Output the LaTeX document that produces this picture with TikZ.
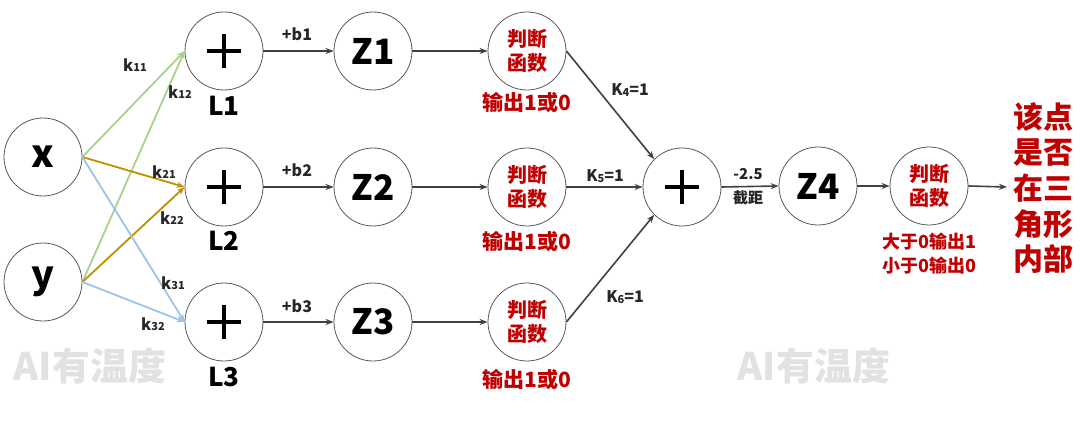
\documentclass[tikz,border=0pt]{standalone}
\usepackage{fontspec}
\setmainfont{Noto Sans CJK SC}
\usepackage{tikz}
\usetikzlibrary{arrows.meta}

\definecolor{kgreen}{HTML}{A9D18E}
\definecolor{kgold}{HTML}{BF9000}
\definecolor{kblue}{HTML}{9DC3E6}
\definecolor{outred}{HTML}{C00000}
\definecolor{linegray}{HTML}{404040}
\definecolor{wmgray}{HTML}{E2E2E2}

\newcommand{\fsz}[2]{\fontsize{#1}{#2}\selectfont}
\newcommand{\wsub}[2]{#1\raisebox{-0.3pt}{\fsz{5.5pt}{6pt}#2}}

\begin{document}
\begin{tikzpicture}[x=0.5pt, y=-0.5pt,
    circ/.style={circle, draw=black!65, line width=0.4pt, minimum size=39pt, inner sep=0pt},
    addnode/.style={circ, path picture={
        \draw[black, line width=1.6pt] ([xshift=-8.7pt]path picture bounding box.center) -- ([xshift=8.7pt]path picture bounding box.center);
        \draw[black, line width=1.6pt] ([yshift=-8.7pt]path picture bounding box.center) -- ([yshift=8.7pt]path picture bounding box.center);}},
    judge/.style={circ, text=outred, font=\bfseries\fsz{10pt}{12pt}, align=center},
    arr/.style={-{Stealth[length=4pt, width=3pt]}, line width=0.8pt, draw=linegray},
    warr/.style={-{Stealth[length=4pt, width=3pt]}, line width=0.9pt},
    lbl/.style={font=\bfseries\fsz{8pt}{9pt}, text=black!85},
    redlbl/.style={font=\bfseries\fsz{10.5pt}{12pt}, text=outred, align=center}]
    \useasboundingbox (0,0) rectangle (1080,422);
    % watermarks
    \node[text=wmgray, font=\bfseries\fsz{19pt}{22pt}] (wm1) at (90,366) {AI有温度};
    \node[text=wmgray, font=\bfseries\fsz{19pt}{22pt}] (wm2) at (814,366) {AI有温度};
    % inputs
    \node[circ, font=\bfseries\fsz{19pt}{20pt}] (x) at (43,157) {x};
    \node[circ, font=\bfseries\fsz{19pt}{20pt}] (y) at (43,282) {y};
    % first layer
    \node[addnode] (L1) at (224,51) {};
    \node[addnode] (L2) at (224,187) {};
    \node[addnode] (L3) at (224,322) {};
    \node[font=\bfseries\fsz{13pt}{14pt}] (L1t) at (224,106) {L1};
    \node[font=\bfseries\fsz{13pt}{14pt}] (L2t) at (224,241) {L2};
    \node[font=\bfseries\fsz{13pt}{14pt}] (L3t) at (224,377) {L3};
    \node[circ, font=\bfseries\fsz{17.5pt}{19pt}] (Z1) at (373,51) {Z1};
    \node[circ, font=\bfseries\fsz{17.5pt}{19pt}] (Z2) at (373,187) {Z2};
    \node[circ, font=\bfseries\fsz{17.5pt}{19pt}] (Z3) at (373,322) {Z3};
    \node[judge] (J1) at (527,51) {判断\\函数};
    \node[judge] (J2) at (527,187) {判断\\函数};
    \node[judge] (J3) at (527,322) {判断\\函数};
    \node[redlbl] (o1) at (527,103) {输出1或0};
    \node[redlbl] (o2) at (527,242) {输出1或0};
    \node[redlbl] (o3) at (527,380) {输出1或0};
    % second layer
    \node[addnode] (S) at (682,187) {};
    \node[circ, font=\bfseries\fsz{17.5pt}{19pt}] (Z4) at (818,186) {Z4};
    \node[judge] (J4) at (929,186) {判断\\函数};
    \node[font=\bfseries\fsz{9pt}{12pt}, text=outred, align=center] (o4) at (929,254) {大于0输出1\\小于0输出0};
    \coordinate (out) at (1007,187);
    \node[font=\bfseries\fsz{15pt}{17.8pt}, text=outred, align=center] (res) at (1043,188) {该点\\是否\\在三\\角形\\内部};
    % weights
    \draw[warr, kgreen] (x.east) -- (L1.west);
    \draw[warr, kgreen] (y.east) -- (L1.west);
    \draw[warr, kgold] (x.east) -- (L2.west);
    \draw[warr, kgold] (y.east) -- (L2.west);
    \draw[warr, kblue] (x.east) -- (L3.west);
    \draw[warr, kblue] (y.east) -- (L3.west);
    \node[lbl] (k11) at (135,65) {\wsub{k}{11}};
    \node[lbl] (k12) at (180,92) {\wsub{k}{12}};
    \node[lbl] (k21) at (164,172) {\wsub{k}{21}};
    \node[lbl] (k22) at (172,218) {\wsub{k}{22}};
    \node[lbl] (k31) at (173,283) {\wsub{k}{31}};
    \node[lbl] (k32) at (153,324) {\wsub{k}{32}};
    % biases
    \foreach \i in {1,2,3} {
        \draw[arr] (L\i.east) -- (Z\i.west);
        \draw[arr] (Z\i.east) -- (J\i.west);
    }
    \node[lbl] (b1) at (297,34) {+b1};
    \node[lbl] (b2) at (297,170) {+b2};
    \node[lbl] (b3) at (297,306) {+b3};
    \draw[arr] (J1.east) -- (S.north west);
    \draw[arr] (J2.east) -- (S.west);
    \draw[arr] (J3.east) -- (S.south west);
    \node[lbl] (K4) at (630,90) {\wsub{K}{4}=1};
    \node[lbl] (K5) at (605,176) {\wsub{K}{5}=1};
    \node[lbl] (K6) at (625,297) {\wsub{K}{6}=1};
    \draw[arr] (S.east) -- (Z4.west);
    \node[lbl, font=\bfseries\fsz{7.5pt}{9pt}] (c1) at (748,174) {-2.5};
    \node[lbl, font=\bfseries\fsz{7.5pt}{9pt}] (c2) at (748,198) {截距};
    \draw[arr] (Z4.east) -- (J4.west);
    \draw[arr] (J4.east) -- (out);
\end{tikzpicture}
\end{document}
